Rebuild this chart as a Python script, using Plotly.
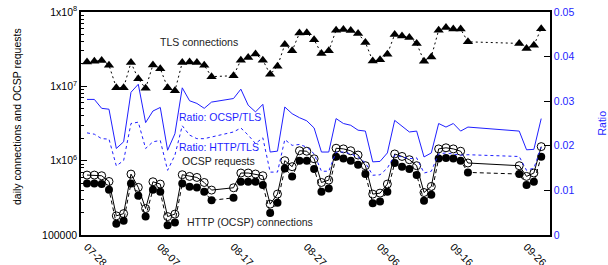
import pandas as pd
import plotly.graph_objects as go

# ---- data ----
dates = ["07-28","07-29","07-30","07-31","08-01","08-02","08-03","08-04","08-05","08-06",
         "08-07","08-08","08-09","08-10","08-11","08-12","08-13","08-14",
         "08-17","08-18","08-19","08-20","08-21","08-22","08-23","08-24","08-25","08-26",
         "08-27","08-28","08-29","08-30","08-31","09-01","09-02","09-03","09-04","09-05",
         "09-06","09-07","09-08","09-09","09-10","09-11","09-12","09-13","09-14","09-15",
         "09-16","09-17","09-18",
         "09-25","09-26","09-27","09-28"]

tls = [2.13e7,2.18e7,2.22e7,1.92e7,9.6e6,9.6e6,2.09e7,1.26e7,9.4e6,1.94e7,
       1.73e7,9.6e6,8.7e6,2.09e7,2.13e7,2.09e7,1.92e7,1.35e7,
       1.39e7,2.25e7,2.44e7,2.73e7,2.25e7,1.45e7,1.86e7,3.66e7,3.0e7,5.2e7,
       5.26e7,4.23e7,2.76e7,3.0e7,5.7e7,5.83e7,5.65e7,5.15e7,3.89e7,2.2e7,
       2.27e7,2.71e7,4.99e7,4.74e7,4.55e7,3.78e7,2.18e7,2.49e7,5.7e7,6.21e7,
       5.89e7,5.89e7,3.97e7,
       3.78e7,3.23e7,3.58e7,5.96e7]

ocsp = [6.4e5,6.4e5,6.27e5,5.25e5,1.81e5,1.94e5,6.6e5,4.37e5,2.27e5,5.2e5,
        4.84e5,1.77e5,1.91e5,6.47e5,6.14e5,5.95e5,5.09e5,4.02e5,
        4.32e5,6.82e5,6.82e5,6.61e5,6.27e5,2.6e5,3.55e5,1.0e6,8.3e5,1.36e6,
        1.34e6,1.06e6,5.09e5,5.48e5,1.47e6,1.44e6,1.36e6,1.19e6,8.56e5,3.55e5,
        3.66e5,4.84e5,1.23e6,1.14e6,1.03e6,8.56e5,3.73e5,4.5e5,1.44e6,1.49e6,
        1.44e6,1.34e6,9.3e5,
        8.56e5,6.14e5,6.82e5,1.545e6]

http = [4.94e5,4.94e5,4.84e5,4.06e5,1.42e5,1.55e5,4.94e5,3.37e5,1.78e5,4.06e5,
        3.81e5,1.35e5,1.47e5,4.94e5,4.46e5,4.37e5,3.81e5,2.93e5,
        3.16e5,5.2e5,5.2e5,5.2e5,4.7e5,1.98e5,2.71e5,7.87e5,6.14e5,1.0e6,
        1.0e6,7.73e5,3.81e5,4.23e5,1.13e6,1.07e6,1.0e6,8.83e5,6.61e5,2.68e5,
        2.82e5,3.81e5,9.3e5,8.3e5,7.73e5,6.41e5,2.88e5,3.47e5,1.07e6,1.09e6,
        1.07e6,1.0e6,6.95e5,
        6.61e5,4.7e5,5.2e5,1.13e6]

ratio_ocsp_tls = [.0304,.0304,.0284,.0282,.0194,.0209,.0320,.0338,.0252,.0278,
                  .0286,.0190,.0227,.0330,.0301,.0295,.0284,.0298,
                  .0306,.0327,.0291,.0276,.0293,.0186,.0188,.0287,.0272,.0263,
                  .0256,.0240,.0186,.0186,.0261,.0250,.0246,.0235,.0233,.0164,
                  .0165,.0184,.0257,.0245,.0231,.0233,.0175,.0184,.0250,.0242,
                  .0250,.0233,.0242,
                  .0233,.0191,.0192,.0261]

ratio_http_tls = [.0229,.0226,.0216,.0215,.0155,.0167,.0250,.0253,.0194,.0209,
                  .0212,.0145,.0179,.0245,.0224,.0216,.0216,.0220,
                  .0231,.0240,.0224,.0205,.0218,.0141,.0141,.0214,.0201,.0203,
                  .0197,.0182,.0143,.0143,.0186,.0186,.0182,.0175,.0162,.0134,
                  .0135,.0150,.0179,.0175,.0171,.0173,.0139,.0143,.0182,.0184,
                  .0181,.0179,.0180,
                  .0176,.0145,.0150,.0197]

x_ticks = ["07-28","08-07","08-17","08-27","09-06","09-16","09-26"]
y_tickvals = [1e5, 1e6, 1e7, 1e8]
y_ticktext = ["100000", "1x10<sup>6</sup>", "1x10<sup>7</sup>", "1x10<sup>8</sup>"]
y2_tickvals = [0, 0.01, 0.02, 0.03, 0.04, 0.05]
y2_ticktext = ["0", "0.01", "0.02", "0.03", "0.04", "0.05"]

YEAR = "2014-"
x = pd.to_datetime([YEAR + d for d in dates])
xt = pd.to_datetime([YEAR + d for d in x_ticks])

BLUE = "#1f1fff"
FONT = "Liberation Sans, Arial, sans-serif"

fig = go.Figure()

fig.add_trace(go.Scatter(x=x, y=ratio_ocsp_tls, yaxis="y2", mode="lines",
                         line=dict(color=BLUE, width=1), name="Ratio: OCSP/TLS"))
fig.add_trace(go.Scatter(x=x, y=ratio_http_tls, yaxis="y2", mode="lines",
                         line=dict(color=BLUE, width=1, dash="3px,3px"), name="Ratio: HTTP/TLS"))
fig.add_trace(go.Scatter(x=x, y=tls, mode="lines+markers",
                         line=dict(color="black", width=1, dash="2px,3px"),
                         marker=dict(symbol="triangle-up", size=9, color="black"),
                         name="TLS connections"))
fig.add_trace(go.Scatter(x=x, y=http, mode="lines+markers",
                         line=dict(color="black", width=1, dash="4px,3px"),
                         marker=dict(symbol="circle", size=8, color="black"),
                         name="HTTP (OCSP) connections"))
fig.add_trace(go.Scatter(x=x, y=ocsp, mode="lines+markers",
                         line=dict(color="black", width=1),
                         marker=dict(symbol="circle-open", size=8, color="black",
                                     line=dict(width=1)),
                         name="OCSP requests"))

x0 = pd.Timestamp(YEAR + "07-28") - pd.Timedelta(hours=19.7)
x1 = pd.Timestamp(YEAR + "09-28") + pd.Timedelta(hours=28.8)

fig.update_layout(
    width=608, height=265,
    margin=dict(l=81, r=58, t=12, b=30),
    paper_bgcolor="white", plot_bgcolor="white",
    showlegend=False,
    font=dict(family=FONT, size=10.5, color="black"),
    xaxis=dict(range=[x0, x1], tickvals=xt, tickformat="%m-%d", tickangle=45,
               automargin=False, ticklabeloverflow="allow",
               showline=True, mirror=True, linecolor="black", linewidth=1.5,
               ticks="", showgrid=False, zeroline=False,
               tickfont=dict(size=10.5, color="black")),
    yaxis=dict(type="log", range=[5, 8], tickvals=y_tickvals, ticktext=y_ticktext,
               automargin=False, ticklabeloverflow="allow",
               showline=True, linecolor="black", linewidth=1.5,
               ticks="inside", ticklen=6, tickcolor="black",
               minor=dict(ticks="inside", ticklen=3, tickcolor="black",
                          tickvals=[m * 10 ** e for e in (5, 6, 7) for m in range(2, 10)]),
               showgrid=False, zeroline=False,
               tickfont=dict(size=10.5, color="black")),
    yaxis2=dict(overlaying="y", side="right", range=[0, 0.05],
                tickvals=y2_tickvals, ticktext=y2_ticktext,
                automargin=False, ticklabeloverflow="allow",
                showline=True, linecolor="black", linewidth=1.5,
                ticks="inside", ticklen=6, tickcolor="black",
                showgrid=False, zeroline=False,
                tickfont=dict(size=10.5, color=BLUE)),
)

def px(xp, yp):
    return (xp - 81) / 469.0, (235 - yp) / 223.0

labels = [
    ("TLS connections", 199, 42, "#222"),
    ("Ratio: OCSP/TLS", 219.5, 116.7, BLUE),
    ("Ratio: HTTP/TLS", 219, 146.7, BLUE),
    ("OCSP requests", 218, 160.7, "#222"),
    ("HTTP (OCSP) connections", 250, 221.7, "#222"),
]
for text, xp, yp, col in labels:
    ax, ay = px(xp, yp)
    fig.add_annotation(text=text, x=ax, y=ay, xref="paper", yref="paper",
                       showarrow=False, xanchor="center", yanchor="middle",
                       font=dict(size=10.5, color=col, family=FONT))

ax, ay = px(17, 117)
fig.add_annotation(text="daily connections and OCSP requests", x=ax, y=ay,
                   xref="paper", yref="paper", showarrow=False, textangle=-90,
                   xanchor="center", yanchor="middle",
                   font=dict(size=10.5, color="black", family=FONT))
ax, ay = px(601, 123.5)
fig.add_annotation(text="Ratio", x=ax, y=ay, xref="paper", yref="paper",
                   showarrow=False, textangle=-90, xanchor="center", yanchor="middle",
                   font=dict(size=10.5, color=BLUE, family=FONT))

# remove the browser's default page margin so the figure sits at (0, 0)
fig.write_html("out.html",
               config={"displayModeBar": False},
               post_script="document.body.style.margin='0';"
                           "document.documentElement.style.overflow='hidden';")
